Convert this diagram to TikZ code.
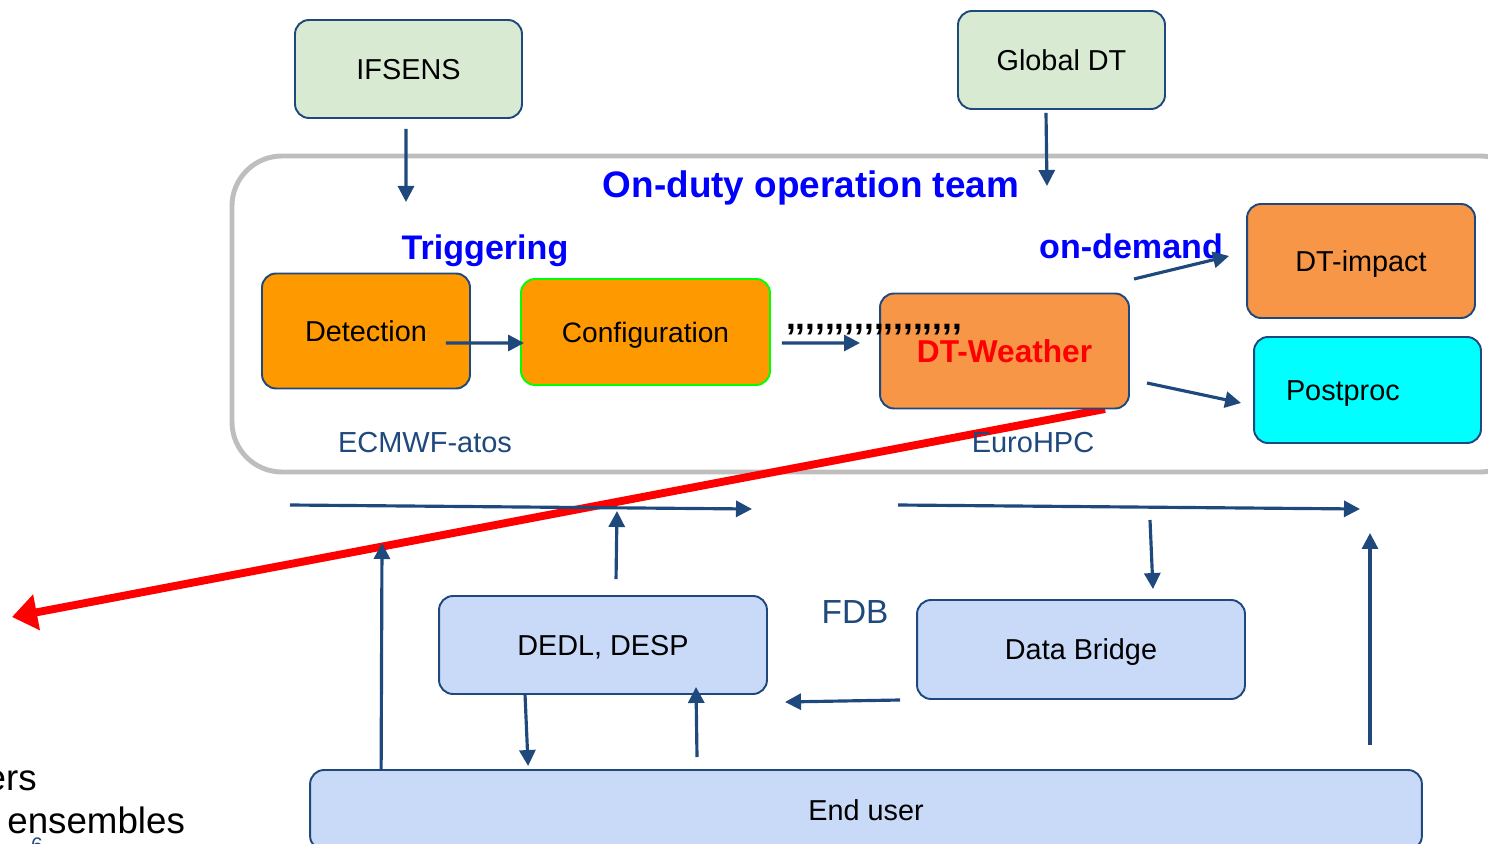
\documentclass[tikz,border=0pt]{standalone}
\usepackage{fontspec}
\setmainfont{Liberation Sans}
\usetikzlibrary{arrows.meta}
\definecolor{dunkelblau}{RGB}{31,73,125}
\definecolor{hellgruen}{RGB}{217,234,211}
\definecolor{orangegelb}{RGB}{255,153,0}
\definecolor{orangedt}{RGB}{247,150,70}
\definecolor{hellblau}{RGB}{201,218,248}
\definecolor{tuerkis}{RGB}{0,255,255}
\definecolor{rahmengrau}{RGB}{190,190,190}
\tikzset{
  kasten/.style={draw=dunkelblau, line width=1.1pt, rounded corners=0.28cm, inner sep=0pt,
    text height=11.8pt, text depth=0pt, font=\fontsize{16.4}{19}\selectfont},
  pfeil/.style={dunkelblau, line width=1.8pt, -{Triangle[length=0.32cm,width=0.32cm]}},
  rotpfeil/.style={red, line width=4.5pt, -{Triangle[length=0.5cm,width=0.7cm]}},
  titel/.style={blue, inner sep=0pt, anchor=base, font=\bfseries\fontsize{19.4}{22}\selectfont},
  ort/.style={dunkelblau, inner sep=0pt, anchor=base, font=\fontsize{16.5}{19}\selectfont},
}
\begin{document}
\begin{tikzpicture}[x=0.02cm, y=-0.02cm]
\useasboundingbox (0,0) rectangle (1488,844);
% Rahmen:
\draw [rahmengrau, line width=2.8pt, rounded corners=1cm] (232,156) rectangle (1530,472);
% roter Pfeil:
\coordinate (rotstart) at (1105,409);
\coordinate (rotende) at (12,617);
\draw [rotpfeil] (rotstart) -- (rotende);
% Kaesten oben:
\node [kasten, fill=hellgruen, minimum width=4.54cm, minimum height=1.96cm] (ifsens) at (408.5,69) {IFSENS};
\node [kasten, fill=hellgruen, minimum width=4.14cm, minimum height=1.96cm] (globaldt) at (1061.5,60) {Global DT};
% Kaesten im Rahmen:
\node [kasten, fill=orangegelb, minimum width=4.16cm, minimum height=2.3cm] (detect) at (366,331) {Detection};
\node [kasten, fill=orangegelb, draw=green, minimum width=4.98cm, minimum height=2.12cm,
  font=\fontsize{16}{19}\selectfont] (config) at (645.5,332) {Configuration};
\node [kasten, fill=orangedt, minimum width=4.98cm, minimum height=2.3cm, text=red, text height=12.9pt,
  font=\bfseries\fontsize{18}{21}\selectfont] (dtweather) at (1004.5,351) {DT-Weather};
\node [kasten, fill=orangedt, minimum width=4.56cm, minimum height=2.28cm] (dtimpact) at (1361,261) {DT-impact};
\node [kasten, fill=tuerkis, minimum width=4.54cm, minimum height=2.12cm, text width=3.26cm, align=left] (postproc) at (1367.5,390) {Postproc};
% Kaesten unten:
\node [kasten, fill=hellblau, minimum width=6.56cm, minimum height=1.96cm] (dedl) at (603,645) {DEDL, DESP};
\node [kasten, fill=hellblau, minimum width=6.56cm, minimum height=1.98cm] (bridge) at (1081,649.5) {Data Bridge};
\node [kasten, fill=hellblau, minimum width=22.24cm, minimum height=1.6cm] (enduser) at (866,810) {End user};
% Texte:
\node [titel, font=\bfseries\fontsize{21}{24}\selectfont] (team) at (811,198) {On-duty operation team};
\node [titel] (trigger) at (485,260) {Triggering};
\node [titel] (ondemand) at (1131,259) {on-demand};
\node [ort] (ecmwf) at (425,453) {ECMWF-atos};
\node [ort] (eurohpc) at (1033,453) {EuroHPC};
\node [ort, font=\fontsize{19}{22}\selectfont] (fdb) at (855,623) {FDB};
\node [anchor=base, inner sep=0pt, font=\bfseries\fontsize{20}{22}\selectfont] (kommas) at (874,330)
  {,\kern0pt,\kern0pt,\kern0pt,\kern0pt,\kern0pt,\kern0pt,\kern0pt,\kern0pt,\kern0pt,\kern0pt,\kern0pt,\kern0pt,\kern0pt,\kern0pt,\kern0pt,\kern0pt,\kern0pt,};
\node [anchor=base east, inner sep=0pt, font=\fontsize{20.9}{24}\selectfont] (ers) at (37,790) {ers};
\node [anchor=base west, inner sep=0pt, font=\fontsize{20.9}{24}\selectfont] (ensembles) at (7,833) {ensembles};
\node [anchor=base, inner sep=0pt, dunkelblau, font=\fontsize{12}{14}\selectfont] (seite) at (37,852) {6};
% Pfeile oben:
\coordinate (ifsensein) at (406,202);
\coordinate (globalein) at (1047,186);
\draw [pfeil] ([xshift=-0.05cm,yshift=-0.2cm]ifsens.south) -- (ifsensein);
\draw [pfeil] ([xshift=-0.31cm,yshift=-0.06cm]globaldt.south) -- (globalein);
% Pfeile im Rahmen:
\coordinate (wetterein) at (860,343);
\coordinate (impaktaus) at (1134,279);
\coordinate (postaus) at (1147,383);
\draw [pfeil] ([xshift=-0.5cm,yshift=-0.24cm]detect.east) -- ([xshift=0.08cm,yshift=-0.22cm]config.west);
\draw [pfeil] ([xshift=0.22cm,yshift=-0.22cm]config.east) -- (wetterein);
\draw [pfeil] (impaktaus) -- ([xshift=-0.34cm,yshift=0.1cm]dtimpact.west);
\draw [pfeil] (postaus) -- ([xshift=-0.24cm,yshift=-0.26cm]postproc.west);
% Pfeile unten:
\coordinate (links1) at (290,505);
\coordinate (links2) at (752,509);
\coordinate (rechts1) at (898,505);
\coordinate (rechts2) at (1360,509);
\coordinate (hoch1) at (382,543);
\coordinate (dedlhoch) at (617,511);
\coordinate (bridgeaus) at (1150,520);
\coordinate (rechtsaus) at (1370,745);
\coordinate (rechtshoch) at (1370,533);
\coordinate (useraus) at (697,757);
\coordinate (bridgelinks1) at (900,700);
\coordinate (bridgelinks2) at (785,702);
\draw [pfeil] (links1) -- (links2);
\draw [pfeil] (rechts1) -- (rechts2);
\draw [pfeil] ([xshift=1.44cm]enduser.north west) -- (hoch1);
\draw [pfeil] ([xshift=3.56cm,yshift=0.32cm]dedl.north west) -- (dedlhoch);
\draw [pfeil] (bridgeaus) -- ([xshift=1.44cm,yshift=0.2cm]bridge.north);
\draw [pfeil] (rechtsaus) -- (rechtshoch);
\draw [pfeil] ([xshift=1.74cm]dedl.south west) -- ([xshift=4.38cm,yshift=0.06cm]enduser.north west);
\draw [pfeil] (useraus) -- ([xshift=5.16cm,yshift=0.16cm]dedl.south west);
\draw [pfeil] (bridgelinks1) -- (bridgelinks2);
\end{tikzpicture}
\end{document}
